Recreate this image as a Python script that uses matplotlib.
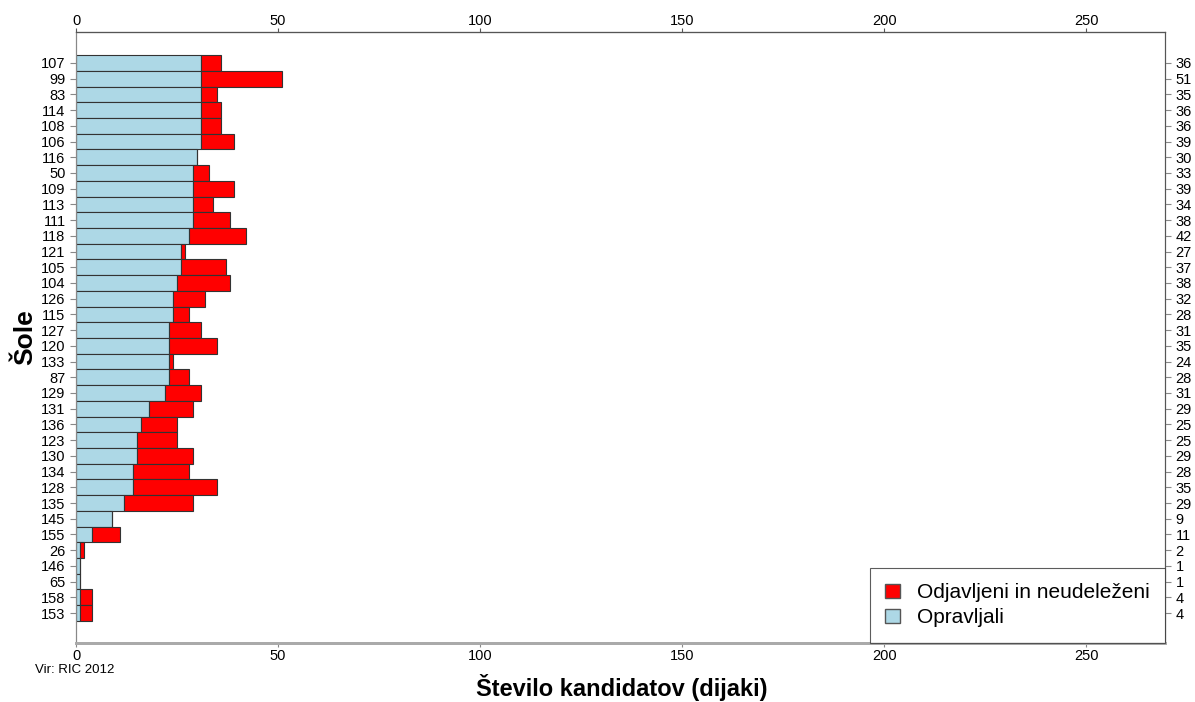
import numpy as np
import matplotlib.pyplot as plt
from matplotlib.patches import Patch

plt.rcParams['font.family'] = ['Liberation Sans', 'DejaVu Sans']

# sole od zgoraj navzdol
sole = ["107", "99", "83", "114", "108", "106", "116", "50", "109", "113",
        "111", "118", "121", "105", "104", "126", "115", "127", "120", "133",
        "87", "129", "131", "136", "123", "130", "134", "128", "135", "145",
        "155", "26", "146", "65", "158", "153"]
opravljali = [31, 31, 31, 31, 31, 31, 30, 29, 29, 29,
              29, 28, 26, 26, 25, 24, 24, 23, 23, 23,
              23, 22, 18, 16, 15, 15, 14, 14, 12, 9,
              4, 1, 1, 1, 1, 1]
skupaj = [36, 51, 35, 36, 36, 39, 30, 33, 39, 34,
          38, 42, 27, 37, 38, 32, 28, 31, 35, 24,
          28, 31, 29, 25, 25, 29, 28, 35, 29, 9,
          11, 2, 1, 1, 4, 4]
x_ticks = [0, 50, 100, 150, 200, 250]

opr = np.array(opravljali)
odj = np.array(skupaj) - opr
n = len(sole)
y = np.arange(n)[::-1]

blue = '#add8e6'
red = '#ff0000'
edge = '#333333'

fig = plt.figure(figsize=(11.95, 7.02), dpi=100)
ax = fig.add_axes([0.0636, 0.0840, 0.9113, 0.8704])

ax.barh(y, opr, height=1.0, color=blue, edgecolor=edge, linewidth=0.8)
ax.barh(y, odj, left=opr, height=1.0, color=red, edgecolor=edge, linewidth=0.8)

ax.set_xlim(0, 269.5)
ax.set_ylim(-1.91, n - 1 + 1.97)
ax.set_yticks(y)
ax.set_yticklabels(sole, fontsize=10.5)
ax.set_xticks(x_ticks)
ax.tick_params(axis='x', labelsize=10.5, length=3, color='#888888', pad=1)
ax.tick_params(axis='y', length=4, color='#888888')

# zgornja os
top = ax.secondary_xaxis('top')
top.set_xticks(x_ticks)
top.tick_params(labelsize=10.5, length=3, color='#555555', pad=0)
top.spines['top'].set_color('#555555')

ax2 = ax.twinx()
ax2.set_ylim(ax.get_ylim())
ax2.set_yticks(y)
ax2.set_yticklabels([str(s) for s in skupaj], fontsize=10.5)
ax2.tick_params(axis='y', length=4, color='#888888')

for a in (ax, ax2):
    a.spines['left'].set_color('#888888')
    a.spines['top'].set_color('#555555')
    a.spines['right'].set_color('#555555')
    a.spines['bottom'].set_color('#aaaaaa')
    a.spines['bottom'].set_linewidth(2)

ax.set_ylabel('Šole', fontsize=19, fontweight='bold')
ax.yaxis.set_label_coords(-0.036, 0.5)

fig.text(0.52, 0.02, 'Število kandidatov (dijaki)', fontsize=17,
         fontweight='bold', ha='center', va='center')

handles = [Patch(facecolor=red, edgecolor='#555555', label='Odjavljeni in neudeleženi'),
           Patch(facecolor=blue, edgecolor='#555555', label='Opravljali')]
leg = ax2.legend(handles=handles, loc='lower right', bbox_to_anchor=(1.0, 0.0),
                 borderaxespad=0, fontsize=15, frameon=True, fancybox=False,
                 edgecolor='#333333', handlelength=0.7, handleheight=0.7,
                 handletextpad=0.8, borderpad=0.75, labelspacing=0.3)
leg.get_frame().set_linewidth(0.8)

fig.text(0.029, 0.042, 'Vir: RIC 2012', fontsize=9.5)

fig.savefig('out.png', dpi=100)
